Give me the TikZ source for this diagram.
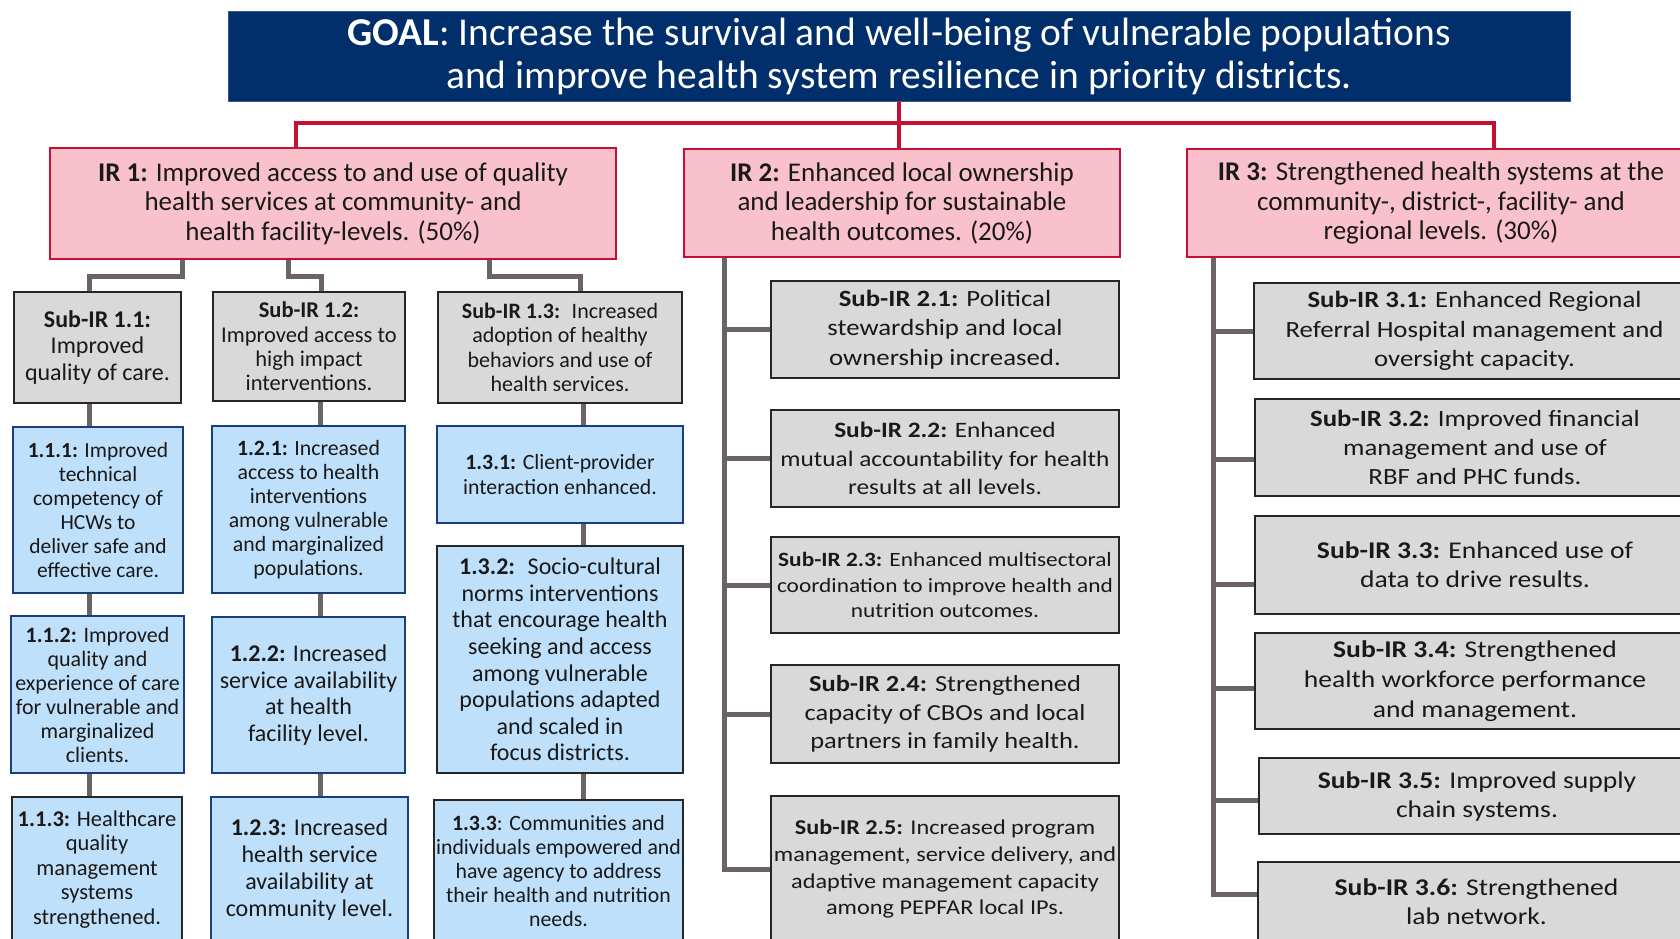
\documentclass[tikz,border=0pt]{standalone}
\usepackage{fontspec}
\setmainfont{Carlito}
\newfontfamily\widefont[FakeStretch=1.15]{Carlito}
\usepackage{xcolor}
\usepackage{tikz}

\definecolor{goalblue}{RGB}{0,47,108}
\definecolor{irpink}{RGB}{249,193,204}
\definecolor{irred}{RGB}{197,16,52}
\definecolor{subgray}{RGB}{217,217,217}
\definecolor{actblue}{RGB}{191,224,250}
\definecolor{actedge}{RGB}{24,62,128}
\definecolor{linkgray}{RGB}{108,100,100}
\newcommand{\fsz}[2]{\fontsize{#1}{#2}\selectfont}

\begin{document}
\begin{tikzpicture}[x=1pt,y=1pt,
    box/.style={rectangle,inner sep=0pt,align=center,text=black!90},
    goalbox/.style={box,fill=goalblue,draw=goalblue!80,line width=1pt,text=white},
    irbox/.style={box,fill=irpink,draw=irred,line width=2.5pt},
    subbox/.style={box,fill=subgray,draw=black!85,line width=2.5pt},
    actbox/.style={box,fill=actblue,draw=actedge,line width=2.5pt},
    darkbox/.style={actbox,draw=black!85},
    redline/.style={draw=irred,line width=4pt},
    grayline/.style={draw=linkgray,line width=5pt}]
    \useasboundingbox (0,0) rectangle (1680,-938);

    \node [goalbox,minimum width=1342pt,minimum height=90pt,font=\fsz{39.5}{43}] (goal) at (899,-56)
        {\textbf{GOAL}: Increase the survival and well-being of vulnerable populations\\and improve health system resilience in priority districts.};

    \node [irbox,minimum width=566pt,minimum height=111pt,font=\fsz{27}{29.5}] (ir1) at (333,-203.5)
        {\textbf{IR 1:} Improved access to and use of quality\\health services at community- and\\health facility-levels. (50\%)};
    \node [irbox,minimum width=436pt,minimum height=108pt,font=\fsz{27}{29.5}] (ir2) at (902,-203)
        {\textbf{IR 2:} Enhanced local ownership\\and leadership for sustainable\\health outcomes. (20\%)};
    \node [irbox,minimum width=508pt,minimum height=108pt,font=\fsz{27}{29.5}] (ir3) at (1441,-203)
        {\textbf{IR 3:} Strengthened health systems at the\\community-, district-, facility- and\\regional levels. (30\%)};

    \node [subbox,minimum width=167pt,minimum height=111pt,font=\fsz{24}{26.8}] (s11) at (97.5,-347.5)
        {\textbf{Sub-IR 1.1:}\\Improved\\quality of care.};
    \node [subbox,minimum width=192pt,minimum height=109pt,font=\fsz{22.5}{24.3}] (s12) at (309,-346.5)
        {\textbf{Sub-IR 1.2:}\\Improved access to\\high impact\\interventions.};
    \node [subbox,minimum width=244pt,minimum height=111pt,font=\fsz{22}{24.3}] (s13) at (560,-347.5)
        {\textbf{Sub-IR 1.3:}~ Increased\\adoption of healthy\\behaviors and use of\\health services.};

    \node [actbox,minimum width=170pt,minimum height=166pt,font=\fsz{21.5}{24}] (b111) at (98,-510)
        {\textbf{1.1.1:} Improved\\technical\\competency of\\HCWs to\\deliver safe and\\effective care.};
    \node [actbox,minimum width=173pt,minimum height=157pt,font=\fsz{22}{24}] (b112) at (97.5,-694.5)
        {\textbf{1.1.2:} Improved\\quality and\\experience of care\\for vulnerable and\\marginalized\\clients.};
    \node [darkbox,minimum width=170pt,minimum height=145pt,font=\fsz{22.5}{24.6}] (b113) at (97,-869.5)
        {\textbf{1.1.3:} Healthcare\\quality\\management\\systems\\strengthened.};

    \node [actbox,minimum width=193pt,minimum height=167pt,font=\fsz{21.8}{24}] (b121) at (308.5,-509.5)
        {\textbf{1.2.1:} Increased\\access to health\\interventions\\among vulnerable\\and marginalized\\populations.};
    \node [actbox,minimum width=193pt,minimum height=156pt,font=\fsz{24}{26.8}] (b122) at (308.5,-695)
        {\textbf{1.2.2:} Increased\\service availability\\at health\\facility level.};
    \node [actbox,minimum width=197pt,minimum height=145pt,font=\fsz{24}{26.8}] (b123) at (309.5,-869.5)
        {\textbf{1.2.3:} Increased\\health service\\availability at\\community level.};

    \node [actbox,minimum width=246pt,minimum height=97pt,font=\fsz{21.8}{24.6}] (b131) at (560,-474.5)
        {\textbf{1.3.1:} Client-provider\\interaction enhanced.};
    \node [darkbox,minimum width=246pt,minimum height=227pt,font=\fsz{24}{26.6}] (b132) at (560,-659.5)
        {\textbf{1.3.2:}~ Socio-cultural\\norms interventions\\that encourage health\\seeking and access\\among vulnerable\\populations adapted\\and scaled in\\focus districts.};
    \node [darkbox,minimum width=249pt,minimum height=142pt,font=\fsz{21.8}{24.1}] (b133) at (558.5,-871)
        {\textbf{1.3.3}: Communities and\\individuals empowered and\\have agency to address\\their health and nutrition\\needs.};

    \node [subbox,minimum width=348pt,minimum height=97pt,font=\widefont\fsz{23.3}{29.5}] (s21) at (945,-329.5)
        {\textbf{Sub-IR 2.1:} Political\\stewardship and local\\ownership increased.};
    \node [subbox,minimum width=348pt,minimum height=97pt,font=\widefont\fsz{22}{28.4}] (s22) at (945,-458.5)
        {\textbf{Sub-IR 2.2:} Enhanced\\mutual accountability for health\\results at all levels.};
    \node [subbox,minimum width=348pt,minimum height=96pt,font=\widefont\fsz{20.3}{25.7}] (s23) at (945,-585)
        {\textbf{Sub-IR 2.3:} Enhanced multisectoral\\coordination to improve health and\\nutrition outcomes.};
    \node [subbox,minimum width=348pt,minimum height=98pt,font=\widefont\fsz{23}{28.4}] (s24) at (945,-714)
        {\textbf{Sub-IR 2.4:} Strengthened\\capacity of CBOs and local\\partners in family health.};
    \node [subbox,minimum width=348pt,minimum height=146pt,font=\widefont\fsz{21.1}{26.8}] (s25) at (945,-869)
        {\textbf{Sub-IR 2.5:} Increased program\\management, service delivery, and\\adaptive management capacity\\among PEPFAR local IPs.};

    \node [subbox,minimum width=441pt,minimum height=96pt,font=\widefont\fsz{23.3}{29.5}] (s31) at (1474.5,-331)
        {\textbf{Sub-IR 3.1:} Enhanced Regional\\Referral Hospital management and\\oversight capacity.};
    \node [subbox,minimum width=440pt,minimum height=97pt,font=\widefont\fsz{23.3}{29}] (s32) at (1475,-447.5)
        {\textbf{Sub-IR 3.2:} Improved financial\\management and use of\\RBF and PHC funds.};
    \node [subbox,minimum width=440pt,minimum height=98pt,font=\widefont\fsz{24}{29}] (s33) at (1475,-565)
        {\textbf{Sub-IR 3.3:} Enhanced use of\\data to drive results.};
    \node [subbox,minimum width=440pt,minimum height=96pt,font=\widefont\fsz{24}{30}] (s34) at (1475,-681)
        {\textbf{Sub-IR 3.4:} Strengthened\\health workforce performance\\and management.};
    \node [subbox,minimum width=436pt,minimum height=76pt,font=\widefont\fsz{24}{29}] (s35) at (1477,-796)
        {\textbf{Sub-IR 3.5:} Improved supply\\chain systems.};
    \node [subbox,minimum width=437pt,minimum height=80pt,font=\widefont\fsz{24}{29}] (s36) at (1476.5,-902)
        {\textbf{Sub-IR 3.6:} Strengthened\\lab network.};

    \draw [redline] (goal.south) -- (goal.south |- ir2.north);
    \draw [redline] ([xshift=-37]ir1.north) -- ++(0,24) -| ([xshift=53]ir3.north);

    \draw [grayline] ([xshift=-151]ir1.south) -- ++(0,-16) -| ([xshift=-8.5]s11.north);
    \draw [grayline] ([xshift=-45]ir1.south) -- ++(0,-16) -| ([xshift=12]s12.north);
    \draw [grayline] ([xshift=156]ir1.south) -- ++(0,-16) -| ([xshift=20]s13.north);

    \foreach \a/\b/\dx in {s11/b111/-8.5, b111/b112/-9, b112/b113/-8.5,
                           s12/b121/11, b121/b122/11.5, b122/b123/11.5,
                           s13/b131/23, b131/b132/23, b132/b133/23}
        \draw [grayline] ([xshift=\dx]\a.south) -- ([xshift=\dx]\a.south |- \b.north);

    \coordinate (t2) at ([xshift=42]ir2.south west);
    \draw [grayline] (t2) |- (s25.west);
    \foreach \s in {s21,s22,s23,s24}
        \draw [grayline] (\s.west) -- (\s.west -| t2);

    \coordinate (t3) at ([xshift=28]ir3.south west);
    \draw [grayline] (t3) |- ([yshift=8]s36.west);
    \foreach \s/\dy in {s31/0, s32/-11.5, s33/-19, s34/-7, s35/-4}
        \draw [grayline] ([yshift=\dy]\s.west) -- ([yshift=\dy]\s.west -| t3);
\end{tikzpicture}
\end{document}
